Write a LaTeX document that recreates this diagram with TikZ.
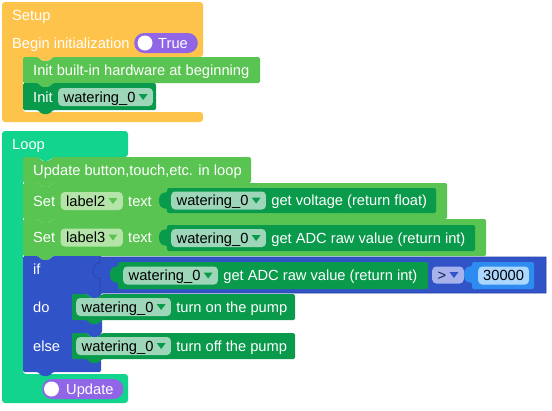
\documentclass[tikz,border=0pt]{standalone}
\usepackage{fontspec}
\setmainfont{Liberation Sans}
\usepackage{xcolor}
\usepackage{tikz}
\usetikzlibrary{positioning}
\definecolor{setupOrange}{HTML}{FEC34A}
\definecolor{loopTeal}{HTML}{12D48C}
\definecolor{stmtGreen}{HTML}{5AC452}
\definecolor{hwGreen}{HTML}{0A9A4C}
\definecolor{hwField}{HTML}{9DD6B8}
\definecolor{lblField}{HTML}{B4E4A8}
\definecolor{ifBlue}{HTML}{3153C8}
\definecolor{ifBlueB}{HTML}{2844A6}
\definecolor{numBlue}{HTML}{2E8CF0}
\definecolor{numField}{HTML}{ABD7FF}
\definecolor{opField}{HTML}{A7B1EC}
\definecolor{opText}{HTML}{1C2050}
\definecolor{togPurple}{HTML}{9166E6}
\newcommand{\blk}{\fontsize{14.67}{17}\selectfont}
% statement block: x1 y1 x2 y2 colour (notch on top, tab below)
\newcommand{\stmtblock}[5]{\fill[#5, rounded corners=1.5pt] (#1,#2) -- (#1+15,#2) -- (#1+19,#2+4) -- (#1+26,#2+4) -- (#1+30,#2) -- (#3,#2) -- (#3,#4) -- (#1+30,#4) -- (#1+26,#4+4) -- (#1+19,#4+4) -- (#1+15,#4) -- (#1,#4) -- cycle;}
% value block: x1 y1 x2 y2 colour (output tab on the left)
\newcommand{\repblock}[5]{\fill[#5, rounded corners=1.5pt] (#1,#2) -- (#3,#2) -- (#3,#4) -- (#1,#4) -- (#1,#2+20) .. controls (#1-3,#2+21) and (#1-8,#2+19) .. (#1-8,#2+12.5) .. controls (#1-8,#2+6) and (#1-3,#2+4) .. (#1,#2+5) -- cycle;}
% dropdown arrow inside a field node
\newcommand{\ddtri}[2]{\fill[#2] ([shift={(-14.5,-3)}]#1.east) -- ++(9,0) -- ++(-4.5,6) -- cycle;}

\begin{document}
\begin{tikzpicture}[x=1pt, y=-1pt,
  txt/.style={anchor=west, inner sep=0pt, text=white, font=\blk, text height=10.5pt, text depth=0pt},
  fld/.style={anchor=west, inner xsep=5.5pt, inner ysep=0pt, minimum height=18pt, rounded corners=4pt, text=black, font=\blk, text height=10.5pt, text depth=0pt},
  pill/.style={anchor=west, fill=togPurple, rounded corners=10pt, minimum height=20pt, inner xsep=10pt, inner ysep=0pt, text=white, font=\blk, text height=10.5pt, text depth=0pt}]
\useasboundingbox (0,0) rectangle (552,410);
% Setup
\fill[setupOrange, rounded corners=3pt] (2,2) -- (203,2) -- (203,57) -- (53,57) -- (49,61) -- (42,61) -- (38,57) -- (23,57) -- (23,112) -- (203,112) -- (203,122) -- (2,122) -- cycle;
\node[txt] (setupLbl) at (12,15.5) {Setup};
\node[txt] (beginLbl) at (12,43) {Begin initialization};
\node[pill] (togTrue) at (134,43) {\kern14pt True};
\fill[white] ([xshift=11pt]togTrue.west) circle (7.5pt);
\stmtblock{23}{57}{260}{83}{stmtGreen}
\node[txt] (initHwLbl) at (33,70.5) {Init built-in hardware at beginning};
\stmtblock{23}{83}{156}{110}{hwGreen}
\node[txt] (initLbl) at (33,97) {Init};
\node[fld, fill=hwField, right=5pt of initLbl] (initFld) {watering\_0\kern12pt};
\ddtri{initFld}{hwGreen}
% Loop
\fill[loopTeal, rounded corners=3pt] (2,131) -- (128,131) -- (128,157) -- (53,157) -- (49,161) -- (42,161) -- (38,157) -- (23,157) -- (23,374) -- (128,374) -- (128,403) -- (2,403) -- cycle;
\node[txt] (loopLbl) at (12,144) {Loop};
\stmtblock{23}{157}{251}{183}{stmtGreen}
\node[txt] (updLbl) at (33,170) {Update button,touch,etc. in loop};
\stmtblock{23}{183}{447}{219}{stmtGreen}
\node[txt] (setA) at (33,201) {Set};
\node[fld, fill=lblField, right=5pt of setA] (lblA) {label2\kern12pt};
\ddtri{lblA}{stmtGreen}
\node[txt, right=5pt of lblA] (textA) {text};
\repblock{167}{188}{436}{213}{hwGreen}
\node[fld, fill=hwField] (fldA) at (171,200.5) {watering\_0\kern12pt};
\ddtri{fldA}{hwGreen}
\node[txt, right=5pt of fldA] (getA) {get voltage (return float)};
\stmtblock{23}{219}{486}{256}{stmtGreen}
\node[txt] (setB) at (33,237.5) {Set};
\node[fld, fill=lblField, right=5pt of setB] (lblB) {label3\kern12pt};
\ddtri{lblB}{stmtGreen}
\node[txt, right=5pt of lblB] (textB) {text};
\repblock{167}{225}{475}{251}{hwGreen}
\node[fld, fill=hwField] (fldB) at (171,238) {watering\_0\kern12pt};
\ddtri{fldB}{hwGreen}
\node[txt, right=5pt of fldB] (getB) {get ADC raw value (return int)};
% if / do / else
\fill[ifBlue, rounded corners=1.5pt] (23,256) -- (38,256) -- (42,260) -- (49,260) -- (53,256) -- (102,256) -- (102,294) -- (98,298) -- (91,298) -- (87,294) -- (72,294) -- (72,320) -- (102,320) -- (102,333) -- (98,337) -- (91,337) -- (87,333) -- (72,333) -- (72,359) -- (101,359) -- (101,372) -- (53,372) -- (49,376) -- (42,376) -- (38,372) -- (23,372) -- cycle;
\draw[ifBlueB, fill=ifBlue, line width=0.6pt] (100,257) -- (546,257) -- (546,293) -- (100,293) -- (100,278) .. controls (97,279) and (93,277) .. (93,271) .. controls (93,265) and (97,262) .. (100,263) -- cycle;
\node[txt] (ifLbl) at (33,269) {if};
\repblock{118}{262}{428}{289}{hwGreen}
\node[fld, fill=hwField] (fldC) at (123,275.5) {watering\_0\kern12pt};
\ddtri{fldC}{hwGreen}
\node[txt, right=5pt of fldC] (getC) {get ADC raw value (return int)};
\node[fld, fill=opField, text=opText, minimum height=17pt] (opFld) at (432,275) {>\kern12pt};
\ddtri{opFld}{ifBlue}
\repblock{472}{262}{534}{289}{numBlue}
\node[fld, fill=numField, inner xsep=5pt] (numFld) at (478,275.5) {30000};
\node[txt] (doLbl) at (33,307) {do};
\stmtblock{72}{294}{295}{320}{hwGreen}
\node[fld, fill=hwField] (fldD) at (76,307) {watering\_0\kern12pt};
\ddtri{fldD}{hwGreen}
\node[txt, right=5pt of fldD] (onTxt) {turn on the pump};
\node[txt] (elseLbl) at (33,346) {else};
\stmtblock{72}{333}{295}{359}{hwGreen}
\node[fld, fill=hwField] (fldE) at (76,346) {watering\_0\kern12pt};
\ddtri{fldE}{hwGreen}
\node[txt, right=5pt of fldE] (offTxt) {turn off the pump};
% Update toggle
\node[pill] (updPill) at (42,389) {\kern14pt Update};
\fill[white] ([xshift=9.5pt]updPill.west) circle (7.5pt);
\end{tikzpicture}
\end{document}
